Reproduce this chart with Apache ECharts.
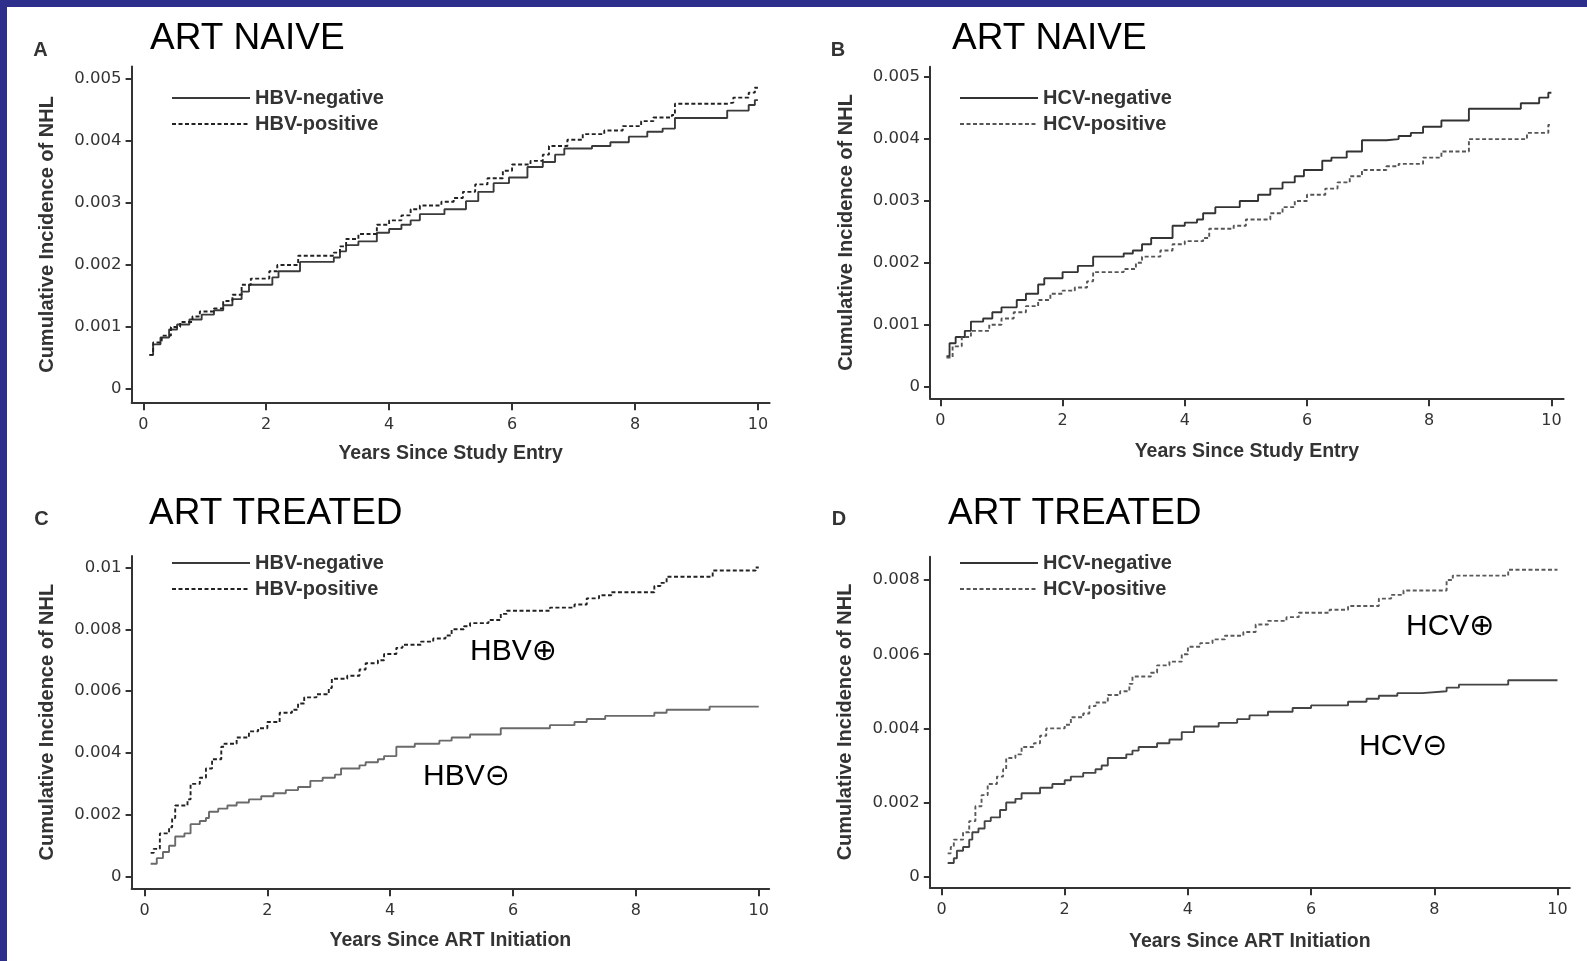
<!DOCTYPE html>
<html>
<head>
<meta charset="utf-8">
<script src="https://cdn.jsdelivr.net/npm/echarts@6/dist/echarts.min.js"></script>
<style>
html,body{margin:0;padding:0;background:#fff;}
#chart{width:1587px;height:961px;}
</style>
</head>
<body>
<div id="chart"></div>
<script>
// ---- Data (years, cumulative incidence) ----
const xTicks = [0, 2, 4, 6, 8, 10];
const yTicksNaive = [0, 0.001, 0.002, 0.003, 0.004, 0.005];
const yTicksC = [0, 0.002, 0.004, 0.006, 0.008, 0.01];
const yTicksD = [0, 0.002, 0.004, 0.006, 0.008];

const A_negative = [[0.10,0.00055],[0.16,0.00072],[0.28,0.00083],[0.42,0.00096],[0.55,0.00104],[0.75,0.00112],[0.95,0.00120],[1.15,0.00127],[1.30,0.00135],[1.45,0.00145],[1.60,0.00157],[1.72,0.00168],[2.10,0.00180],[2.20,0.00190],[2.55,0.00205],[3.10,0.00212],[3.20,0.00222],[3.30,0.00232],[3.50,0.00238],[3.80,0.00252],[4.00,0.00258],[4.20,0.00265],[4.35,0.00272],[4.50,0.00282],[4.90,0.00290],[5.25,0.00303],[5.45,0.00318],[5.70,0.00332],[5.95,0.00341],[6.25,0.00358],[6.50,0.00366],[6.70,0.00378],[6.85,0.00388],[7.30,0.00392],[7.60,0.00398],[7.90,0.00407],[8.20,0.00415],[8.45,0.00420],[8.65,0.00437],[9.50,0.00449],[9.85,0.00458],[9.95,0.00466],[10.0,0.00466]];
const A_positive = [[0.10,0.00055],[0.16,0.00075],[0.30,0.00086],[0.45,0.00100],[0.60,0.00108],[0.80,0.00117],[0.92,0.00125],[1.15,0.00130],[1.30,0.00142],[1.45,0.00152],[1.60,0.00168],[1.75,0.00178],[2.05,0.00190],[2.18,0.00200],[2.52,0.00215],[3.10,0.00220],[3.20,0.00230],[3.30,0.00242],[3.50,0.00250],[3.80,0.00265],[4.00,0.00272],[4.20,0.00280],[4.35,0.00290],[4.50,0.00296],[4.85,0.00302],[5.05,0.00308],[5.20,0.00318],[5.40,0.00330],[5.60,0.00340],[5.85,0.00352],[6.00,0.00362],[6.30,0.00368],[6.50,0.00378],[6.60,0.00392],[6.90,0.00402],[7.15,0.00411],[7.50,0.00417],[7.80,0.00424],[8.10,0.00432],[8.30,0.00438],[8.60,0.00442],[8.65,0.00460],[9.50,0.00462],[9.60,0.00470],[9.85,0.00478],[9.95,0.00486],[10.0,0.00486]];

const B_negative = [[0.10,0.00049],[0.15,0.00070],[0.25,0.00080],[0.40,0.00090],[0.50,0.00105],[0.70,0.00110],[0.85,0.00120],[1.00,0.00128],[1.25,0.00140],[1.40,0.00150],[1.60,0.00165],[1.70,0.00175],[2.00,0.00185],[2.25,0.00195],[2.50,0.00210],[3.00,0.00215],[3.15,0.00220],[3.30,0.00230],[3.45,0.00240],[3.80,0.00260],[4.00,0.00265],[4.20,0.00270],[4.30,0.00280],[4.50,0.00290],[4.90,0.00300],[5.20,0.00310],[5.40,0.00320],[5.60,0.00330],[5.80,0.00340],[5.95,0.00350],[6.25,0.00365],[6.40,0.00370],[6.65,0.00380],[6.90,0.00398],[7.30,0.00400],[7.50,0.00405],[7.70,0.00410],[7.90,0.00420],[8.20,0.00430],[8.65,0.00449],[9.50,0.00458],[9.80,0.00467],[9.95,0.00475],[10.0,0.00475]];
const B_positive = [[0.10,0.00047],[0.20,0.00065],[0.35,0.00080],[0.50,0.00090],[0.80,0.00100],[1.00,0.00110],[1.20,0.00120],[1.40,0.00130],[1.60,0.00140],[1.80,0.00150],[2.00,0.00155],[2.20,0.00160],[2.40,0.00170],[2.50,0.00185],[3.00,0.00190],[3.20,0.00200],[3.30,0.00210],[3.60,0.00220],[3.80,0.00230],[4.00,0.00235],[4.30,0.00240],[4.40,0.00255],[4.80,0.00260],[5.00,0.00270],[5.40,0.00280],[5.60,0.00290],[5.80,0.00300],[6.00,0.00310],[6.30,0.00320],[6.50,0.00330],[6.70,0.00340],[6.90,0.00350],[7.30,0.00356],[7.50,0.00360],[7.90,0.00370],[8.20,0.00380],[8.65,0.00400],[9.60,0.00410],[9.95,0.00423],[10.0,0.00423]];

const C_negative = [[0.10,0.00042],[0.20,0.00060],[0.30,0.00080],[0.40,0.00100],[0.50,0.00130],[0.65,0.00140],[0.75,0.00170],[0.90,0.00180],[1.00,0.00190],[1.05,0.00210],[1.20,0.00220],[1.35,0.00230],[1.50,0.00240],[1.70,0.00250],[1.90,0.00260],[2.10,0.00270],[2.30,0.00280],[2.50,0.00290],[2.70,0.00310],[2.90,0.00320],[3.10,0.00330],[3.20,0.00350],[3.50,0.00360],[3.60,0.00370],[3.80,0.00380],[3.90,0.00390],[4.10,0.00420],[4.40,0.00430],[4.80,0.00440],[5.00,0.00450],[5.30,0.00460],[5.80,0.00480],[6.60,0.00490],[7.00,0.00500],[7.20,0.00510],[7.50,0.00520],[8.30,0.00530],[8.50,0.00540],[9.20,0.00550],[10.0,0.00550]];
const C_positive = [[0.10,0.00077],[0.15,0.00090],[0.25,0.00140],[0.40,0.00160],[0.45,0.00190],[0.50,0.00230],[0.70,0.00250],[0.75,0.00300],[0.90,0.00320],[1.00,0.00350],[1.10,0.00380],[1.25,0.00420],[1.30,0.00430],[1.50,0.00450],[1.70,0.00470],[1.85,0.00480],[2.00,0.00500],[2.20,0.00530],[2.40,0.00540],[2.50,0.00560],[2.60,0.00580],[2.80,0.00590],[3.00,0.00610],[3.05,0.00640],[3.30,0.00650],[3.50,0.00670],[3.60,0.00690],[3.80,0.00700],[3.90,0.00720],[4.10,0.00740],[4.20,0.00750],[4.50,0.00760],[4.70,0.00770],[4.90,0.00780],[5.00,0.00800],[5.20,0.00810],[5.30,0.00820],[5.60,0.00830],[5.80,0.00850],[5.90,0.00860],[6.60,0.00870],[7.00,0.00880],[7.20,0.00900],[7.40,0.00910],[7.60,0.00920],[8.30,0.00940],[8.40,0.00950],[8.50,0.00970],[9.25,0.00990],[9.95,0.01000],[10.0,0.01000]];

const D_negative = [[0.10,0.00037],[0.20,0.00050],[0.25,0.00070],[0.35,0.00080],[0.45,0.00100],[0.50,0.00120],[0.60,0.00130],[0.70,0.00150],[0.80,0.00160],[0.95,0.00180],[1.05,0.00200],[1.20,0.00210],[1.30,0.00225],[1.60,0.00240],[1.80,0.00250],[2.00,0.00260],[2.10,0.00270],[2.30,0.00280],[2.50,0.00290],[2.60,0.00300],[2.70,0.00320],[3.00,0.00330],[3.10,0.00340],[3.20,0.00350],[3.50,0.00360],[3.70,0.00370],[3.90,0.00390],[4.10,0.00405],[4.50,0.00415],[4.80,0.00425],[5.00,0.00435],[5.30,0.00445],[5.70,0.00455],[6.00,0.00462],[6.60,0.00472],[6.90,0.00480],[7.10,0.00488],[7.40,0.00495],[7.80,0.00500],[8.20,0.00510],[8.40,0.00518],[9.20,0.00530],[10.0,0.00530]];
const D_positive = [[0.10,0.00063],[0.15,0.00080],[0.20,0.00100],[0.35,0.00120],[0.45,0.00150],[0.55,0.00190],[0.65,0.00220],[0.75,0.00250],[0.90,0.00270],[1.00,0.00290],[1.05,0.00320],[1.20,0.00330],[1.30,0.00350],[1.50,0.00360],[1.60,0.00380],[1.70,0.00400],[2.00,0.00410],[2.10,0.00430],[2.30,0.00440],[2.40,0.00460],[2.50,0.00470],[2.70,0.00490],[2.90,0.00500],[3.05,0.00520],[3.10,0.00540],[3.40,0.00550],[3.50,0.00570],[3.70,0.00580],[3.90,0.00600],[4.00,0.00620],[4.20,0.00630],[4.40,0.00640],[4.60,0.00650],[4.90,0.00660],[5.10,0.00680],[5.30,0.00690],[5.60,0.00700],[5.80,0.00712],[6.30,0.00720],[6.60,0.00730],[7.10,0.00750],[7.30,0.00760],[7.50,0.00772],[8.20,0.00800],[8.30,0.00812],[9.20,0.00828],[10.0,0.00828]];

// ---- Styling helpers ----
const TICK_FONT = "'DejaVu Sans', sans-serif";
const TITLE_FONT = "'Liberation Sans', Arial, sans-serif";
const INK = '#333';

const grids = [
  {left:131.6, top:66.6, width:638, height:335.7},
  {left:930, top:66.7, width:633.6, height:331.6},
  {left:131.6, top:556, width:637.6, height:332.3},
  {left:929.8, top:556.7, width:640, height:330.6}
];
const xRanges = [[-0.19,10.19],[-0.17,10.2],[-0.21,10.17],[-0.19,10.2]];
const yRanges = [[-0.000215,0.0052],[-0.00019,0.00517],[-0.000375,0.01037],[-0.000285,0.00863]];
const yTickSets = [yTicksNaive, yTicksNaive, yTicksC, yTicksD];
const xNames = ['Years Since Study Entry','Years Since Study Entry','Years Since ART Initiation','Years Since ART Initiation'];
const xNameGaps = [41.5, 43.5, 42.5, 44.5];

function xAxis(i){
  return {
    type:'value', gridIndex:i, min:xRanges[i][0], max:xRanges[i][1],
    name:xNames[i], nameLocation:'middle', nameGap:xNameGaps[i],
    nameTextStyle:{fontFamily:TITLE_FONT, fontWeight:'bold', fontSize:19.5, color:INK},
    axisLine:{show:true, onZero:false, lineStyle:{color:INK, width:2}},
    axisTick:{show:true, length:8, customValues:xTicks, lineStyle:{color:INK, width:2}},
    axisLabel:{show:true, customValues:xTicks, margin:15, fontFamily:TICK_FONT, fontSize:16, color:INK},
    splitLine:{show:false}
  };
}
function yAxis(i){
  return {
    type:'value', gridIndex:i, min:yRanges[i][0], max:yRanges[i][1],
    name:'Cumulative Incidence of NHL', nameLocation:'middle', nameGap:74,
    nameTextStyle:{fontFamily:TITLE_FONT, fontWeight:'bold', fontSize:20, color:INK},
    axisLine:{show:true, onZero:false, lineStyle:{color:INK, width:2}},
    axisTick:{show:true, length:6, customValues:yTickSets[i], lineStyle:{color:INK, width:2}},
    axisLabel:{show:true, customValues:yTickSets[i], margin:10, fontFamily:TICK_FONT, fontSize:16.5, color:INK,
      formatter:function(v){ return v === 0 ? '0' : String(+v.toFixed(4)); }},
    splitLine:{show:false}
  };
}
function stepSeries(name, data, idx, color, dashed){
  return {
    type:'line', name:name, data:data, xAxisIndex:idx, yAxisIndex:idx,
    step:'end', symbol:'none', showSymbol:false, silent:true, animation:false,
    lineStyle:{color:color, width:1.9, type: dashed ? [4,2.5] : 'solid'},
    itemStyle:{color:color}
  };
}
function legend(names, left, top){
  return {
    data:names, left:left, top:top, orient:'vertical', itemWidth:78, itemHeight:14, itemGap:6,
    selectedMode:false,
    itemStyle:{opacity:0, borderWidth:0},
    textStyle:{fontFamily:"'Liberation Sans', sans-serif", fontWeight:'bold', fontSize:20, lineHeight:20, color:INK}
  };
}
function txt(text, x, y, font, fill, align){
  return {type:'text', x:x, y:y, silent:true,
    style:{text:text, font:font, fill:fill, textAlign:align||'left', textVerticalAlign:'middle', align:align||'left', verticalAlign:'middle'}};
}

const chart = echarts.init(document.getElementById('chart'), null, {renderer:'canvas'});
chart.setOption({
  backgroundColor:'#fff',
  animation:false,
  grid: grids.map(g => Object.assign({containLabel:false, outerBoundsMode:'none'}, g)),
  xAxis:[0,1,2,3].map(xAxis),
  yAxis:[0,1,2,3].map(yAxis),
  legend:[
    legend(['HBV-negative','HBV-positive'], 166, 83),
    legend(['HCV-negative','HCV-positive'], 954, 83),
    legend(['HBV-negative','HBV-positive'], 166, 548),
    legend(['HCV-negative','HCV-positive'], 954, 548)
  ],
  series:[
    stepSeries('HBV-negative', A_negative, 0, '#3a3a3a', false),
    stepSeries('HBV-positive', A_positive, 0, '#222', true),
    stepSeries('HCV-negative', B_negative, 1, '#333', false),
    stepSeries('HCV-positive', B_positive, 1, '#555', true),
    stepSeries('HBV-negative', C_negative, 2, '#6a6a6a', false),
    stepSeries('HBV-positive', C_positive, 2, '#222', true),
    stepSeries('HCV-negative', D_negative, 3, '#444', false),
    stepSeries('HCV-positive', D_positive, 3, '#5a5a5a', true)
  ],
  graphic:[
    {type:'rect', shape:{x:0,y:0,width:1587,height:7}, style:{fill:'#2e2e8c'}, silent:true},
    {type:'rect', shape:{x:0,y:0,width:7,height:961}, style:{fill:'#2e2e8c'}, silent:true},
    txt('A', 40.5, 50, "bold 20px 'Liberation Sans', sans-serif", INK, 'center'),
    txt('B', 838, 50, "bold 20px 'Liberation Sans', sans-serif", INK, 'center'),
    txt('C', 41.5, 519, "bold 20px 'Liberation Sans', sans-serif", INK, 'center'),
    txt('D', 839, 519, "bold 20px 'Liberation Sans', sans-serif", INK, 'center'),
    txt('ART NAIVE', 150, 39, "37px 'Liberation Sans', sans-serif", '#000'),
    txt('ART NAIVE', 952, 39, "37px 'Liberation Sans', sans-serif", '#000'),
    txt('ART TREATED', 149, 514, "37px 'Liberation Sans', sans-serif", '#000'),
    txt('ART TREATED', 948, 514, "37px 'Liberation Sans', sans-serif", '#000'),
    txt('HBV⊕', 470, 652, "30px 'Liberation Sans', 'DejaVu Sans', sans-serif", '#000'),
    txt('HBV⊝', 423, 777, "30px 'Liberation Sans', 'DejaVu Sans', sans-serif", '#000'),
    txt('HCV⊕', 1406, 627, "30px 'Liberation Sans', 'DejaVu Sans', sans-serif", '#000'),
    txt('HCV⊝', 1359, 747, "30px 'Liberation Sans', 'DejaVu Sans', sans-serif", '#000')
  ]
});
</script>
</body>
</html>
